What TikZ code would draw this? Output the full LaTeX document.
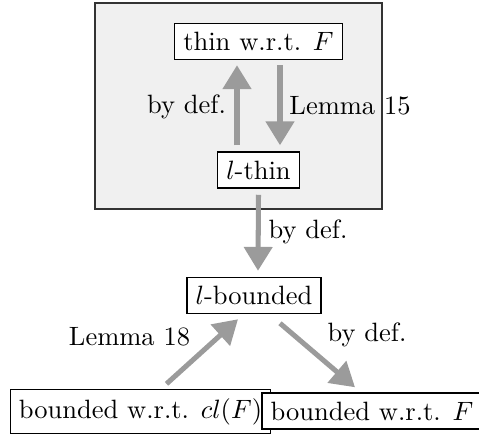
\documentclass[tikz,border=0pt]{standalone}
\usetikzlibrary{arrows.meta}
\definecolor{framefill}{HTML}{F0F0F0}
\definecolor{arrgray}{HTML}{9B9B9B}
\begin{document}
\begin{tikzpicture}[x=0.3774pt,y=-0.3774pt,
  box/.style={draw=black,fill=white,line width=0.5pt,inner sep=3.3pt},
  lab/.style={inner sep=0pt},
  imp/.style={draw=arrgray,line width=1.9pt,-{Triangle[length=9pt,width=10.5pt]}}]
\useasboundingbox (0,0) rectangle (479,442);
\draw[fill=framefill,draw=black!80,line width=0.6pt] (95,3) rectangle (382,209);
\node[box] (thin) at (258.5,41.5) {thin w.r.t. $F$};
\node[box] (lthin) at (258.5,170) {$l$-thin};
\node[box] (lb) at (254,295.5) {$l$-bounded};
\node[box] (bl) at (140.5,411.5) {bounded w.r.t. $cl(F)$};
\node[box] (br) at (372,411) {bounded w.r.t. $F$};
\node[lab] (l1) at (186.5,107) {by def.};
\node[lab] (l2) at (350,106) {Lemma 15};
\node[lab] (l3) at (308,232) {by def.};
\node[lab] (l4) at (129.5,337) {Lemma 18};
\node[lab] (l5) at (367,335) {by def.};
\draw[imp] ([shift={(-21.5,-6)}]lthin.north) -- ([shift={(-21.5,5)}]thin.south);
\draw[imp] ([shift={(21.5,5)}]thin.south) -- ([shift={(21.5,-6)}]lthin.north);
\draw[imp] ([shift={(0,6)}]lthin.south) -- ([shift={(4,-6)}]lb.north);
\draw[imp] ([shift={(26,-5)}]bl.north) -- ([shift={(-16,5)}]lb.south);
\draw[imp] ([shift={(26,9)}]lb.south) -- ([shift={(-17,-5)}]br.north);
\end{tikzpicture}
\end{document}
